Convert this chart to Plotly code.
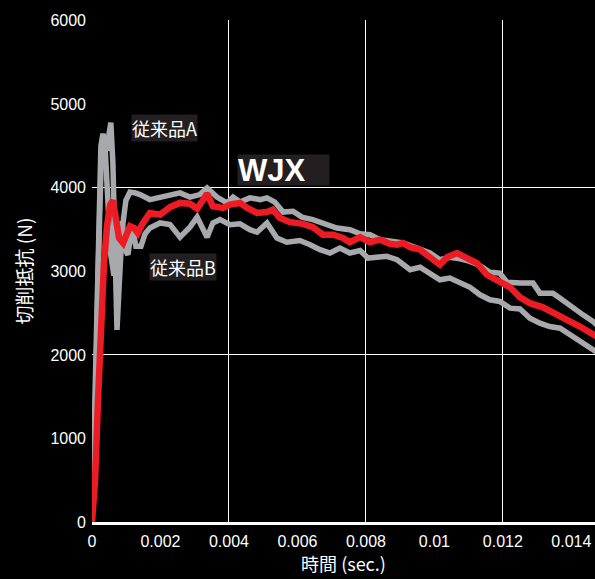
import plotly.graph_objects as go

# Time (sec.) and cutting resistance (N)
t_wjx = [0.0, 0.00009, 0.00018, 0.00026, 0.00035, 0.00044, 0.00053, 0.00061, 0.00070, 0.00079,
         0.00091, 0.00102, 0.00111, 0.00123, 0.00134, 0.00146, 0.00158, 0.00169, 0.00199, 0.00228,
         0.00257, 0.00286, 0.00307, 0.00336, 0.00353, 0.00383, 0.00403, 0.00432, 0.00453, 0.00482,
         0.00511, 0.00528, 0.00549, 0.00578, 0.00616, 0.00645, 0.00674, 0.00704, 0.00733, 0.00753,
         0.00783, 0.00812, 0.00841, 0.00870, 0.00891, 0.00908, 0.00929, 0.00958, 0.00987, 0.01016,
         0.01037, 0.01066, 0.01095, 0.01124, 0.01153, 0.01171, 0.01191, 0.01221, 0.01250, 0.01279,
         0.01317, 0.01346, 0.01387, 0.01425, 0.01463, 0.01483]
f_wjx = [0, 500, 1500, 2400, 3100, 3550, 3800, 3850, 3650, 3400,
         3340, 3450, 3540, 3520, 3460, 3560, 3620, 3700, 3680, 3770,
         3820, 3810, 3750, 3930, 3780, 3760, 3800, 3820, 3760, 3700,
         3710, 3740, 3640, 3590, 3570, 3530, 3440, 3440, 3400, 3350,
         3410, 3350, 3380, 3330, 3320, 3340, 3290, 3260, 3170, 3080,
         3170, 3220, 3160, 3100, 2960, 2920, 2870, 2810, 2690, 2620,
         2570, 2500, 2420, 2340, 2240, 2200]

t_a = [0.0, 0.00009, 0.00018, 0.00026, 0.00035, 0.00044, 0.00050, 0.00055, 0.00061, 0.00067,
       0.00073, 0.00079, 0.00088, 0.00099, 0.00111, 0.00126, 0.00140, 0.00169, 0.00199, 0.00228,
       0.00257, 0.00286, 0.00315, 0.00336, 0.00365, 0.00394, 0.00412, 0.00432, 0.00461, 0.00491,
       0.00511, 0.00534, 0.00558, 0.00587, 0.00613, 0.00645, 0.00675, 0.00715, 0.00753, 0.00783,
       0.00812, 0.00841, 0.00879, 0.00908, 0.00949, 0.00987, 0.01016, 0.01045, 0.01075, 0.01104,
       0.01133, 0.01162, 0.01191, 0.01212, 0.01250, 0.01288, 0.01308, 0.01346, 0.01367, 0.01405,
       0.01434, 0.01463, 0.01483]
f_a = [0, 1200, 3000, 4200, 4550, 4450, 4650, 4780, 4300, 3000,
       2300, 2800, 3500, 3850, 3950, 3940, 3920, 3860, 3890, 3920,
       3940, 3890, 3920, 4000, 3890, 3820, 3890, 3830, 3880, 3860,
       3880, 3830, 3710, 3720, 3650, 3620, 3580, 3520, 3500, 3450,
       3440, 3380, 3360, 3340, 3280, 3220, 3140, 3170, 3150, 3120,
       3070, 2990, 2980, 2870, 2860, 2860, 2740, 2740, 2680, 2560,
       2480, 2400, 2330]

t_b = [0.0, 0.00009, 0.00018, 0.00026, 0.00032, 0.00038, 0.00047, 0.00055, 0.00064, 0.00076,
       0.00088, 0.00096, 0.00105, 0.00117, 0.00128, 0.00143, 0.00155, 0.00169, 0.00199, 0.00228,
       0.00257, 0.00286, 0.00307, 0.00336, 0.00353, 0.00374, 0.00403, 0.00432, 0.00461, 0.00482,
       0.00511, 0.00540, 0.00569, 0.00607, 0.00637, 0.00666, 0.00695, 0.00724, 0.00753, 0.00783,
       0.00806, 0.00841, 0.00861, 0.00891, 0.00929, 0.00958, 0.00987, 0.01016, 0.01045, 0.01075,
       0.01104, 0.01133, 0.01162, 0.01191, 0.01221, 0.01250, 0.01279, 0.01308, 0.01337, 0.01367,
       0.01396, 0.01434, 0.01463, 0.01483]
f_b = [0, 1500, 3500, 4500, 4650, 4500, 3800, 3200, 2950, 3200,
       3600, 3260, 3200, 3550, 3300, 3300, 3450, 3520, 3580, 3560,
       3410, 3530, 3650, 3410, 3580, 3620, 3560, 3570, 3500, 3470,
       3580, 3400, 3350, 3370, 3320, 3260, 3220, 3280, 3220, 3250,
       3160, 3170, 3180, 3140, 3020, 3050, 2980, 2900, 2920, 2860,
       2810, 2720, 2660, 2640, 2560, 2550, 2440, 2380, 2340, 2320,
       2240, 2140, 2060, 2010]

x_tick_vals = [0, 0.002, 0.004, 0.006, 0.008, 0.01, 0.012, 0.014]
x_tick_text = ["0", "0.002", "0.004", "0.006", "0.008", "0.01", "0.012", "0.014"]
x_grid_vals = [0.004, 0.008, 0.012]
y_tick_vals = [0, 1000, 2000, 3000, 4000, 5000, 6000]
y_grid_vals = [2000, 4000, 6000]

GRAY = "#a7a9ac"
RED = "#ed1c24"
FONT = "Liberation Sans, Arial, Noto Sans CJK JP, sans-serif"
CJK = "Noto Sans CJK JP, Liberation Sans, sans-serif"

XR = [0, 0.01469]
YR = [0, 6010]

fig = go.Figure()
fig.add_trace(go.Scatter(x=t_a, y=f_a, mode="lines", line=dict(color=GRAY, width=5.5),
                         name="従来品A", hoverinfo="skip"))
fig.add_trace(go.Scatter(x=t_b, y=f_b, mode="lines", line=dict(color=GRAY, width=5.5),
                         name="従来品B", hoverinfo="skip"))
fig.add_trace(go.Scatter(x=t_wjx, y=f_wjx, mode="lines", line=dict(color=RED, width=6.5),
                         name="WJX", hoverinfo="skip"))
# invisible trace to host the labelled overlay axes
fig.add_trace(go.Scatter(x=[None], y=[None], xaxis="x2", yaxis="y2", mode="lines",
                         showlegend=False, hoverinfo="skip"))

fig.update_layout(
    width=595, height=579,
    paper_bgcolor="black", plot_bgcolor="black",
    margin=dict(l=92, r=0, t=20, b=57),
    showlegend=False,
    font=dict(family=FONT, color="white", size=16),
    xaxis=dict(range=XR, tickmode="array", tickvals=x_grid_vals, showticklabels=False,
               showgrid=True, gridcolor="white", gridwidth=1.3, zeroline=False,
               showline=True, linecolor="white", linewidth=2.5, ticks=""),
    yaxis=dict(range=YR, tickmode="array", tickvals=y_grid_vals, showticklabels=False,
               showgrid=True, gridcolor="white", gridwidth=1.3, zeroline=False,
               showline=False, ticks=""),
    xaxis2=dict(range=XR, overlaying="x", side="bottom", tickmode="array",
                tickvals=x_tick_vals, ticktext=x_tick_text, showgrid=False, zeroline=False,
                showline=False, ticks="", ticklabelstandoff=8,
                tickfont=dict(family=FONT, size=16, color="white"),
                title=dict(text="時間 (sec.)", font=dict(family=CJK, size=18, color="white"),
                           standoff=5)),
    yaxis2=dict(range=YR, overlaying="y", side="left", tickmode="array",
                tickvals=y_tick_vals, showgrid=False, zeroline=False, showline=False,
                ticks="", ticklabelstandoff=5,
                tickfont=dict(family=FONT, size=16, color="white"),
                title=dict(text="切削抵抗 (N)", font=dict(family=CJK, size=19, color="white"),
                           standoff=12)),
)

fig.add_annotation(x=0.00212, y=4720, xref="x", yref="y", text="従来品A", showarrow=False,
                   font=dict(family=CJK, size=18, color="white"), bgcolor="#231f20",
                   borderpad=0)
fig.add_annotation(x=0.00266, y=3050, xref="x", yref="y", text="従来品B", showarrow=False,
                   font=dict(family=CJK, size=18, color="white"), bgcolor="#231f20",
                   borderpad=0)
fig.add_annotation(x=0.00423, y=4220, xref="x", yref="y", xanchor="left",
                   text="<b>WJX</b>", showarrow=False, width=91, height=30, align="left",
                   font=dict(family="Liberation Sans, Arial, sans-serif", size=31, color="white"),
                   bgcolor="#231f20", borderpad=0)

fig.write_html("out.html", config={"displayModeBar": False},
               post_script="document.body.style.margin='0';"
                           "document.body.style.background='black';"
                           "document.documentElement.style.background='black';")
